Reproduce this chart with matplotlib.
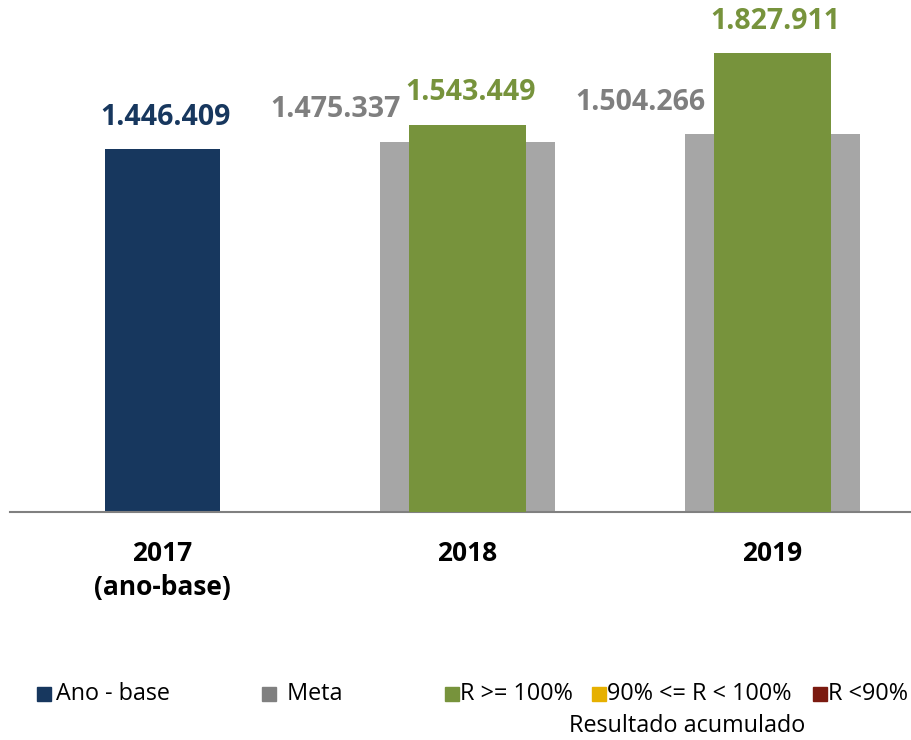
import matplotlib
matplotlib.use("Agg")
import matplotlib.pyplot as plt
from matplotlib.patches import Rectangle

plt.rcParams['font.family'] = ['Open Sans', 'DejaVu Sans']

# Data
categories = ["2017\n(ano-base)", "2018", "2019"]
base_value = [1446409]            # 2017 ano-base
meta_values = [1475337, 1504266]  # meta 2018, 2019
result_values = [1543449, 1827911]  # resultado acumulado 2018, 2019

legend_labels = ["Ano - base", " Meta", "R >= 100%", "90% <= R < 100%", "R <90%"]
legend_note = "Resultado acumulado"

NAVY = "#17375E"
GRAY_BAR = "#A6A6A6"
GRAY_TXT = "#7F7F7F"
GREEN = "#77933C"
YELLOW = "#E6B000"
DARKRED = "#7B1A10"


def fmt(v):
    return f"{v:,}".replace(",", ".")


fig = plt.figure(figsize=(9.12, 7.4), dpi=100)
ax = fig.add_axes([10 / 912, 228 / 740, 915 / 912, 512 / 740])

x_base = [0]
x_res = [1, 2]
w_base, w_meta, w_res = 0.38, 0.575, 0.385

ax.bar(x_base, base_value, width=w_base, color=NAVY, zorder=2)
ax.bar(x_res, meta_values, width=w_meta, color=GRAY_BAR, zorder=2)
ax.bar(x_res, result_values, width=w_res, color=GREEN, zorder=3)

ax.set_xlim(-0.5, 2.5)
ax.set_ylim(0, 2040000)

label_font = dict(fontsize=20.5, fontweight='bold')
for x, v in zip(x_base, base_value):
    ax.annotate(fmt(v), (x, v), xytext=(2, 23), textcoords='offset points',
                ha='center', va='center', color=NAVY, **label_font)
for x, v in zip(x_res, meta_values):
    ax.annotate(fmt(v), (x - w_res / 2, v), xytext=(-6, 23),
                textcoords='offset points', ha='right', va='center',
                color=GRAY_TXT, **label_font)
for x, v in zip(x_res, result_values):
    ax.annotate(fmt(v), (x, v), xytext=(2, 23), textcoords='offset points',
                ha='center', va='center', color=GREEN, **label_font)

ax.set_xticks(range(len(categories)))
ax.set_xticklabels(categories, fontsize=19, fontweight='bold', color='black',
                   linespacing=1.35)
ax.tick_params(axis='x', length=0, pad=20)
ax.set_yticks([])
for s in ['top', 'right', 'left']:
    ax.spines[s].set_visible(False)
ax.spines['bottom'].set_color('#808080')
ax.spines['bottom'].set_linewidth(1.5)

# Legend row
legend_colors = [NAVY, "#808080", GREEN, YELLOW, DARKRED]
sq_x = [37, 262, 445, 592, 813]
txt_x = [56, 281, 460, 607, 828]
row_y = 694
sq = 14
for c, lab, sx, tx in zip(legend_colors, legend_labels, sq_x, txt_x):
    fig.patches.append(Rectangle((sx / 912, (740 - row_y - sq / 2) / 740),
                                 sq / 912, sq / 740, transform=fig.transFigure,
                                 color=c))
    fig.text(tx / 912, (740 - row_y) / 740, lab, ha='left', va='center',
             fontsize=16.8, color='black')
fig.text(687 / 912, (740 - 726) / 740, legend_note, ha='center', va='center',
         fontsize=16.8, color='black')

fig.savefig("out.png", dpi=100)
